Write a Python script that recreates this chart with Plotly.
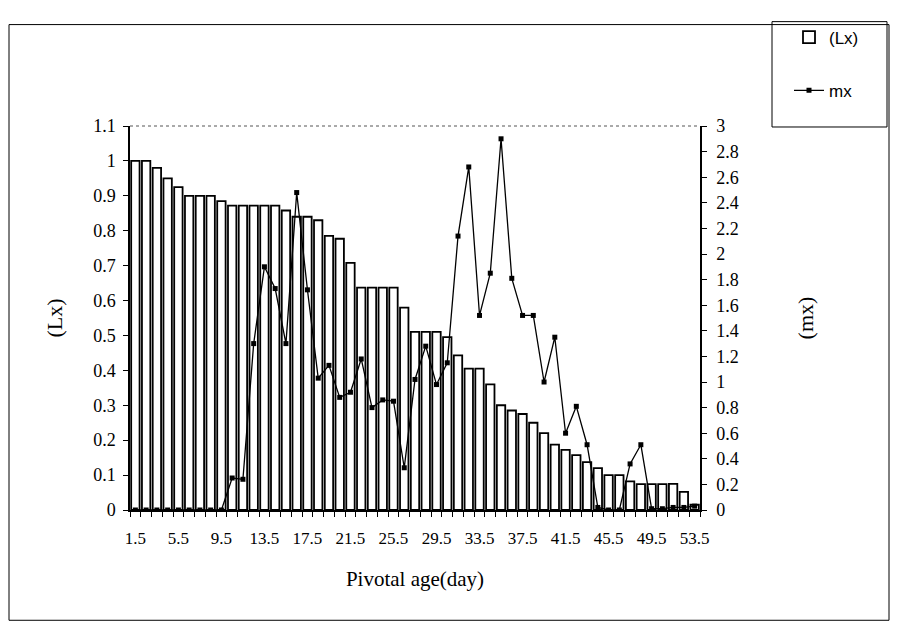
import plotly.graph_objects as go

# Pivotal age categories (days)
ages = [1.5, 2.5, 3.5, 4.5, 5.5, 6.5, 7.5, 8.5, 9.5, 10.5,
        11.5, 12.5, 13.5, 14.5, 15.5, 16.5, 17.5, 18.5, 19.5, 20.5,
        21.5, 22.5, 23.5, 24.5, 25.5, 26.5, 27.5, 28.5, 29.5, 30.5,
        31.5, 32.5, 33.5, 34.5, 35.5, 36.5, 37.5, 38.5, 39.5, 40.5,
        41.5, 42.5, 43.5, 44.5, 45.5, 46.5, 47.5, 48.5, 49.5, 50.5,
        51.5, 52.5, 53.5]

# Survivorship (Lx), left axis
lx = [1.0, 1.0, 0.98, 0.95, 0.925, 0.90, 0.90, 0.90, 0.885, 0.872,
      0.872, 0.872, 0.872, 0.872, 0.858, 0.84, 0.84, 0.83, 0.785, 0.777,
      0.708, 0.637, 0.637, 0.637, 0.637, 0.58, 0.51, 0.51, 0.51, 0.495,
      0.443, 0.405, 0.405, 0.36, 0.30, 0.285, 0.275, 0.25, 0.22, 0.187,
      0.172, 0.157, 0.137, 0.12, 0.10, 0.10, 0.082, 0.074, 0.074, 0.074,
      0.075, 0.052, 0.015]

# Fecundity (mx), right axis
mx = [0, 0, 0, 0, 0, 0, 0, 0, 0, 0.25,
      0.24, 1.3, 1.9, 1.73, 1.3, 2.48, 1.72, 1.03, 1.13, 0.88,
      0.92, 1.18, 0.8, 0.86, 0.85, 0.33, 1.02, 1.28, 0.98, 1.15,
      2.14, 2.68, 1.52, 1.85, 2.9, 1.81, 1.52, 1.52, 1.0, 1.35,
      0.6, 0.81, 0.51, 0.02, 0, 0, 0.36, 0.51, 0.01, 0.01,
      0.02, 0.02, 0.03]

x_tick_vals = [1.5, 5.5, 9.5, 13.5, 17.5, 21.5, 25.5, 29.5, 33.5, 37.5, 41.5, 45.5, 49.5, 53.5]
x_tick_text = ["1.5", "5.5", "9.5", "13.5", "17.5", "21.5", "25.5", "29.5", "33.5",
               "37.5", "41.5", "45.5", "49.5", "53.5"]
lx_tick_vals = [0, 0.1, 0.2, 0.3, 0.4, 0.5, 0.6, 0.7, 0.8, 0.9, 1.0, 1.1]
lx_tick_text = ["0", "0.1", "0.2", "0.3", "0.4", "0.5", "0.6", "0.7", "0.8", "0.9", "1", "1.1"]
mx_tick_vals = [0, 0.2, 0.4, 0.6, 0.8, 1.0, 1.2, 1.4, 1.6, 1.8, 2.0, 2.2, 2.4, 2.6, 2.8, 3.0]
mx_tick_text = ["0", "0.2", "0.4", "0.6", "0.8", "1", "1.2", "1.4", "1.6", "1.8", "2",
                "2.2", "2.4", "2.6", "2.8", "3"]

boundaries = [a - 0.5 for a in ages] + [ages[-1] + 0.5]

SERIF = "Liberation Serif, Times New Roman, serif"
SANS = "Liberation Sans, Arial, sans-serif"

fig = go.Figure()
fig.add_trace(go.Bar(
    x=ages, y=lx, name="(Lx)", yaxis="y", width=0.78,
    marker=dict(color="white", line=dict(color="black", width=1.8)),
    legendgroup="a",
))
fig.add_trace(go.Scatter(
    x=ages, y=mx, name="mx", yaxis="y2", mode="lines+markers",
    line=dict(color="black", width=1.3),
    marker=dict(symbol="square", size=5, color="black"),
    legendgroup="b",
))

# page offset (body margin) -> figure coordinates
OFF = 8
W, H = 882, 616
L, T = 130 - OFF, 120 - OFF
R = W - (700 - OFF)
B = H - (510 - OFF)
pw, ph = W - L - R, H - T - B

def px(xp):
    return (xp - OFF - L) / pw

def py(yp):
    return (H - B - (yp - OFF)) / ph

axis_common = dict(showgrid=False, zeroline=False, showline=True, linecolor="black",
                   linewidth=1.5, ticks="outside", ticklen=5, tickcolor="black",
                   tickfont=dict(family=SERIF, size=18, color="black"))
inner_ticks = dict(showgrid=False, zeroline=False, showline=False, ticks="inside",
                   ticklen=4, tickcolor="black", showticklabels=False, tickmode="array")

fig.update_layout(
    width=W, height=H,
    margin=dict(l=L, r=R, t=T, b=B),
    paper_bgcolor="white", plot_bgcolor="white",
    showlegend=True,
    xaxis=dict(
        range=[1, 54], tickmode="array", tickvals=x_tick_vals, ticktext=x_tick_text,
        showgrid=False, zeroline=False, showline=True, linecolor="black", linewidth=1.5,
        ticks="", ticklabelstandoff=12,
        tickfont=dict(family=SERIF, size=17, color="black"),
        minor=dict(ticks="outside", ticklen=5, tickcolor="black", tickmode="array",
                   tickvals=boundaries, showgrid=False),
        title=dict(text="Pivotal age(day)", font=dict(family=SERIF, size=21, color="black"),
                   standoff=24),
    ),
    yaxis=dict(
        range=[0, 1.1], tickmode="array", tickvals=lx_tick_vals, ticktext=lx_tick_text,
        ticklabelstandoff=4,
        title=dict(text="(Lx)", font=dict(family=SERIF, size=22, color="black"), standoff=24),
        **axis_common,
    ),
    yaxis2=dict(
        range=[0, 3], tickmode="array", tickvals=mx_tick_vals, ticktext=mx_tick_text,
        overlaying="y", side="right", ticklabelstandoff=6,
        title=dict(text="(mx)", font=dict(family=SERIF, size=22, color="black"), standoff=60),
        **axis_common,
    ),
    yaxis3=dict(range=[0, 1.1], tickvals=lx_tick_vals, overlaying="y", side="left",
                anchor="x", **inner_ticks),
    yaxis4=dict(range=[0, 3], tickvals=mx_tick_vals, overlaying="y", side="right",
                anchor="x", **inner_ticks),
    legend=dict(
        x=px(789), y=py(12), xanchor="left", yanchor="top",
        bgcolor="rgba(0,0,0,0)", borderwidth=0,
        font=dict(family=SANS, size=17, color="black"),
        traceorder="grouped", tracegroupgap=28,
    ),
    shapes=[
        # outer chart frame
        dict(type="rect", xref="paper", yref="paper", x0=px(9), x1=px(889), y0=py(622), y1=py(17),
             line=dict(color="black", width=1)),
        # legend frame
        dict(type="rect", xref="paper", yref="paper", x0=px(772), x1=px(887), y0=py(121), y1=py(14),
             line=dict(color="black", width=1)),
        # dotted top border of plot area
        dict(type="line", xref="paper", yref="paper", x0=0, x1=1, y0=1, y1=1,
             line=dict(color="#555555", width=1, dash="dot")),
    ],
)

fig.write_html("out.html")
